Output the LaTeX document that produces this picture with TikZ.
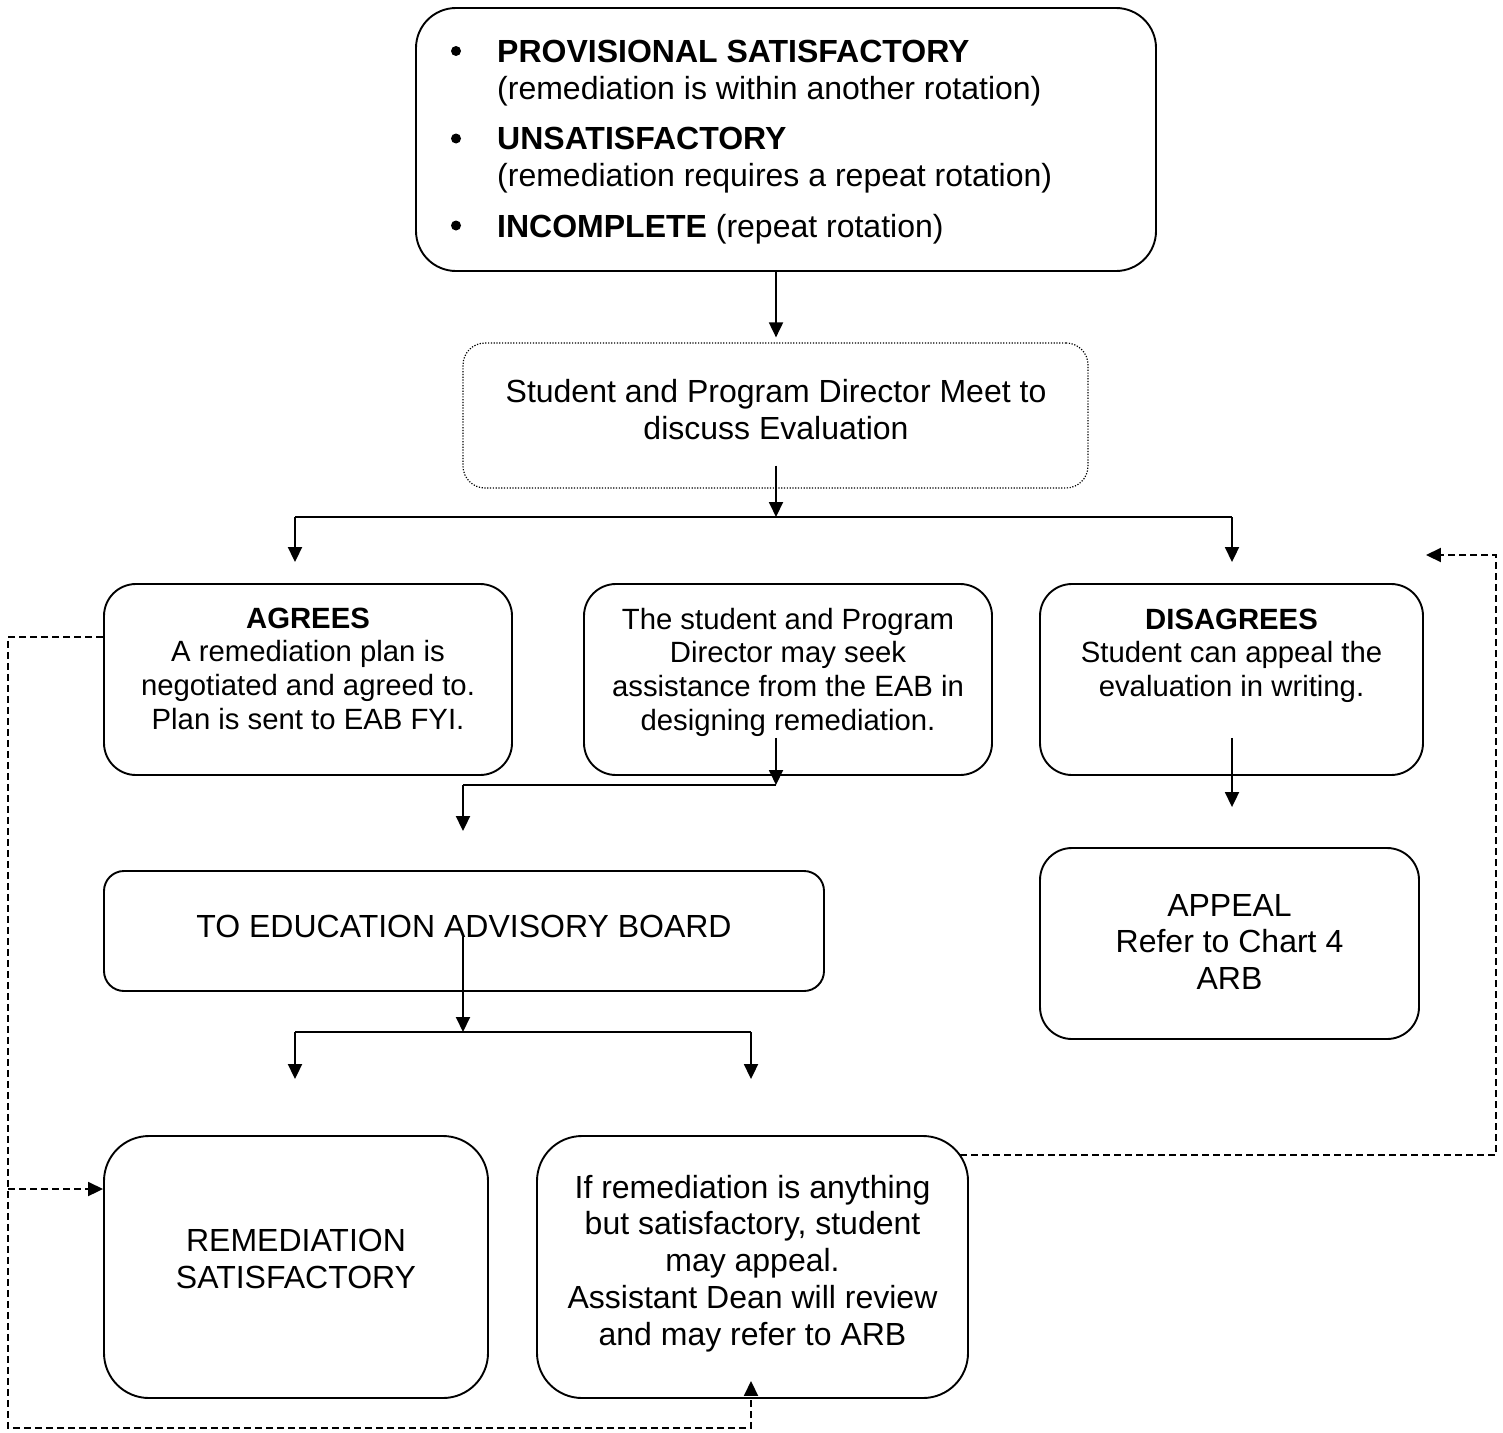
\documentclass[tikz,border=0pt]{standalone}
\usepackage{fontspec}
\setmainfont{Liberation Sans}
\usetikzlibrary{arrows.meta}
\newcommand\bigtxt{\fontsize{32}{36.8}\selectfont}
\newcommand\smltxt{\fontsize{29.3}{33.7}\selectfont}
\begin{document}
\begin{tikzpicture}[x=1pt,y=-1pt,
  box/.style={draw, line width=1.9pt, inner sep=0pt, rounded corners=#1},
  box/.default=32pt,
  txt/.style={inner sep=0pt, align=center, anchor=north, font=\bigtxt},
  stxt/.style={inner sep=0pt, align=center, anchor=north, font=\smltxt},
  bul/.style={circle, fill, inner sep=0pt, minimum size=10pt},
  ln/.style={line width=1.9pt},
  arr/.style={line width=1.9pt, -{Triangle[length=15pt,width=14pt]}},
  dsh/.style={line width=1.9pt, dash pattern=on 7pt off 4pt}
]
\fill[white] (0,0) rectangle (1503,1432);
\useasboundingbox (0,0) rectangle (1503,1432);

% boxes
\node[box=40pt, minimum width=740pt, minimum height=263pt] (top) at (786,139.5) {};
\node[box=22pt, line width=1.2pt, dash pattern=on 1.2pt off 1.6pt, minimum width=625pt, minimum height=145pt] (meet) at (775.5,415.5) {};
\node[box, minimum width=408pt, minimum height=191pt] (agree) at (308,679.5) {};
\node[box, minimum width=408pt, minimum height=191pt] (assist) at (788,679.5) {};
\node[box, minimum width=383pt, minimum height=191pt] (disagree) at (1231.5,679.5) {};
\node[box=20pt, minimum width=720pt, minimum height=120pt] (eab) at (464,931) {};
\node[box, minimum width=379pt, minimum height=191pt] (appeal) at (1229.5,943.5) {};
\node[box=45pt, minimum width=384pt, minimum height=262pt] (remsat) at (296,1267) {};
\node[box=45pt, minimum width=431pt, minimum height=262pt] (anyb) at (752.5,1267) {};

% texts
\node[bul] (b1) at (456,51) {};
\node[bul] (b2) at (456,138.5) {};
\node[bul] (b3) at (456,225.5) {};
\node[inner sep=0pt, align=left, anchor=north west, font=\bigtxt] (toptxt) at (497,36.7)
  {\strut\textbf{PROVISIONAL SATISFACTORY}\\(remediation is within another rotation)\\[13.7pt]
   \textbf{UNSATISFACTORY}\\(remediation requires a repeat rotation)\\[13.7pt]
   \textbf{INCOMPLETE} (repeat rotation)};
\node[txt] (meettxt) at (776,376.7) {\strut Student and Program Director Meet to\\discuss Evaluation};
\node[stxt] (agreetxt) at (308,604.4) {\strut\textbf{AGREES}\\A remediation plan is\\negotiated and agreed to.\\Plan is sent to EAB FYI.};
\node[stxt] (assisttxt) at (788,605.4) {\strut The student and Program\\Director may seek\\assistance from the EAB in\\designing remediation.};
\node[stxt] (distxt) at (1231.5,605.4) {\strut\textbf{DISAGREES}\\Student can appeal the\\evaluation in writing.};
\node[txt] (eabtxt) at (464,911.7) {\strut TO EDUCATION ADVISORY BOARD};
\node[txt] (appealtxt) at (1229.5,890.2) {\strut APPEAL\\Refer to Chart 4\\ARB};
\node[txt] (remtxt) at (296,1225.7) {\strut REMEDIATION\\SATISFACTORY};
\node[txt] (anytxt) at (752.5,1172.2) {\strut If remediation is anything\\but satisfactory, student\\may appeal.\\Assistant Dean will review\\and may refer to ARB};

% junction coordinates
\coordinate (s1) at (776,517);
\coordinate (sL) at (295,517);
\coordinate (sR) at (1232,517);
\coordinate (t1) at (776,785);
\coordinate (t2) at (463,785);
\coordinate (e1) at (463,1032);
\coordinate (eL) at (295,1032);
\coordinate (eR) at (751,1032);
\coordinate (dl1) at (8,637);
\coordinate (dlm) at (8,1189);
\coordinate (dl2) at (8,1428);
\coordinate (dl3) at (751,1428);
\coordinate (dr0) at (960,1155);
\coordinate (dr1) at (1496,1155);
\coordinate (dr2) at (1496,555);

% solid connectors
\draw[arr] (top.south -| s1) -- ([yshift=5pt]meet.north -| s1);
\draw[arr] ([yshift=23pt]meet.south -| s1) -- (s1);
\draw[ln] (sL) -- (sR);
\draw[arr] (sL) -- ([yshift=21pt]agree.north -| sL);
\draw[arr] (sR) -- ([yshift=21pt]disagree.north -| sR);
\draw[arr] ([yshift=38pt]assist.south -| t1) -- (t1);
\draw[ln] (t1) -- (t2);
\draw[arr] (t2) -- ([yshift=39pt]eab.north -| t2);
\draw[arr] ([yshift=38pt]disagree.south -| sR) -- ([yshift=40pt]appeal.north -| sR);
\draw[arr] ([yshift=55pt]eab.south -| e1) -- (e1);
\draw[ln] (eL) -- (eR);
\draw[arr] (eL) -- ([yshift=56pt]remsat.north -| eL);
\draw[arr] (eR) -- ([yshift=56pt]anyb.north -| eR);

% dashed connectors
\draw[dsh, arr] (agree.west |- dl1) -- (dl1) -- (dl2) -- (dl3) -- ([yshift=18pt]anyb.south -| dl3);
\draw[dsh, arr] (dlm) -- (remsat.west |- dlm);
\draw[dsh, arr] (dr0) -- (dr1) -- (dr2) -- ([xshift=2pt]disagree.east |- dr2);
\end{tikzpicture}
\end{document}
